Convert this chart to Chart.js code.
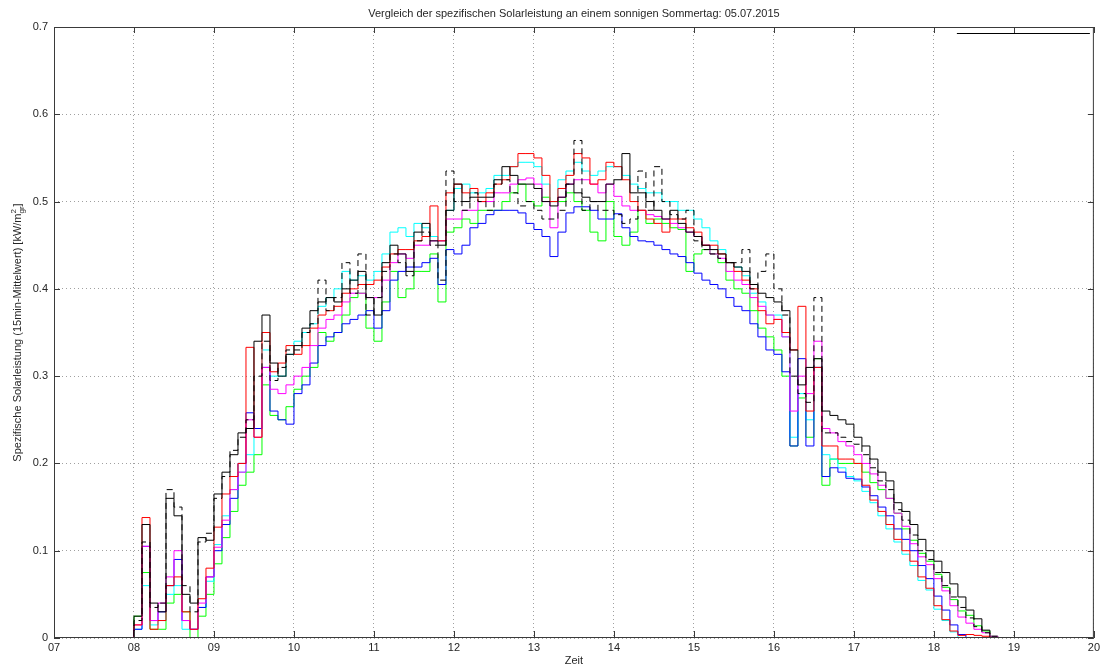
<!DOCTYPE html>
<html>
<head>
<meta charset="utf-8">
<script src="https://cdn.jsdelivr.net/npm/chart.js"></script>
<style>
  html, body { margin: 0; padding: 0; background: #fff; }
  #wrap { width: 1103px; height: 668px; }
</style>
</head>
<body>
<div id="wrap"><canvas id="chart" width="1103" height="668"></canvas></div>
<script>
// ── 1. DATA ─────────────────────────────────────────────────

const titleText = 'Vergleich der spezifischen Solarleistung an einem sonnigen Sommertag: 05.07.2015';
const xTitle = 'Zeit';
const yTitleMain = 'Spezifische Solarleistung (15min-Mittelwert) [kW/m';
const yTitleSup = '2';
const yTitleSub = 'gr';
const yTitleEnd = ']';

const xTickLabels = ['07', '08', '09', '10', '11', '12', '13', '14', '15', '16', '17', '18', '19', '20'];
const yTickLabels = ['0', '0.1', '0.2', '0.3', '0.4', '0.5', '0.6', '0.7'];

// time of day in hours (6-minute steps)
const times = [
  7.9, 8.0, 8.1, 8.2, 8.3, 8.4, 8.5, 8.6, 8.7, 8.8, 8.9,
  9.0, 9.1, 9.2, 9.3, 9.4, 9.5, 9.6, 9.7, 9.8, 9.9,
  10.0, 10.1, 10.2, 10.3, 10.4, 10.5, 10.6, 10.7, 10.8, 10.9,
  11.0, 11.1, 11.2, 11.3, 11.4, 11.5, 11.6, 11.7, 11.8, 11.9,
  12.0, 12.1, 12.2, 12.3, 12.4, 12.5, 12.6, 12.7, 12.8, 12.9,
  13.0, 13.1, 13.2, 13.3, 13.4, 13.5, 13.6, 13.7, 13.8, 13.9,
  14.0, 14.1, 14.2, 14.3, 14.4, 14.5, 14.6, 14.7, 14.8, 14.9,
  15.0, 15.1, 15.2, 15.3, 15.4, 15.5, 15.6, 15.7, 15.8, 15.9,
  16.0, 16.1, 16.2, 16.3, 16.4, 16.5, 16.6, 16.7, 16.8, 16.9,
  17.0, 17.1, 17.2, 17.3, 17.4, 17.5, 17.6, 17.7, 17.8, 17.9,
  18.0, 18.1, 18.2, 18.3, 18.4, 18.5, 18.6, 18.7, 18.8, 18.9
];

const blackSolid = [
  0, 0.025, 0.13, 0.04, 0.03, 0.16, 0.14, 0.05, 0.04, 0.115, 0.112,
  0.165, 0.19, 0.21, 0.235, 0.24, 0.34, 0.37, 0.315, 0.30, 0.325,
  0.335, 0.355, 0.375, 0.385, 0.39, 0.385, 0.40, 0.41, 0.42, 0.39,
  0.37, 0.43, 0.45, 0.44, 0.42, 0.465, 0.475, 0.455, 0.45, 0.49,
  0.52, 0.50, 0.505, 0.505, 0.505, 0.525, 0.54, 0.53, 0.52, 0.52,
  0.515, 0.50, 0.495, 0.505, 0.52, 0.51, 0.505, 0.50, 0.50, 0.52,
  0.525, 0.555, 0.51, 0.51, 0.50, 0.49, 0.48, 0.49, 0.475, 0.465,
  0.46, 0.45, 0.445, 0.44, 0.43, 0.425, 0.42, 0.405, 0.395, 0.39,
  0.385, 0.375, 0.33, 0.29, 0.31, 0.32, 0.26, 0.255, 0.25, 0.245,
  0.23, 0.22, 0.205, 0.19, 0.18, 0.155, 0.145, 0.13, 0.113, 0.10,
  0.088, 0.075, 0.062, 0.047, 0.032, 0.022, 0.009, 0, 0, 0
];

const blackDashed = [
  0, 0.02, 0.11, 0.035, 0.04, 0.17, 0.15, 0.06, 0.03, 0.11, 0.12,
  0.16, 0.185, 0.215, 0.23, 0.25, 0.30, 0.34, 0.295, 0.31, 0.33,
  0.33, 0.35, 0.36, 0.41, 0.375, 0.39, 0.43, 0.395, 0.44, 0.37,
  0.39, 0.42, 0.44, 0.43, 0.415, 0.455, 0.465, 0.45, 0.41, 0.535,
  0.50, 0.49, 0.51, 0.50, 0.49, 0.52, 0.525, 0.51, 0.495, 0.50,
  0.49, 0.48, 0.48, 0.49, 0.52, 0.57, 0.49, 0.50, 0.49, 0.49,
  0.485, 0.475, 0.48, 0.535, 0.49, 0.54, 0.50, 0.485, 0.48, 0.49,
  0.455, 0.445, 0.44, 0.435, 0.43, 0.43, 0.445, 0.40, 0.42, 0.44,
  0.40, 0.37, 0.30, 0.28, 0.27, 0.39, 0.235, 0.235, 0.23, 0.225,
  0.222, 0.21, 0.195, 0.18, 0.17, 0.147, 0.135, 0.118, 0.10, 0.09,
  0.075, 0.06, 0.047, 0.035, 0.023, 0.013, 0.006, 0.002, 0, 0
];

const red = [
  0, 0.015, 0.138, 0.01, 0.02, 0.06, 0.07, 0.03, 0.01, 0.045, 0.08,
  0.127, 0.165, 0.185, 0.20, 0.333, 0.23, 0.35, 0.305, 0.315, 0.335,
  0.325, 0.335, 0.355, 0.37, 0.375, 0.38, 0.395, 0.40, 0.405, 0.405,
  0.41, 0.425, 0.44, 0.445, 0.445, 0.455, 0.46, 0.495, 0.455, 0.51,
  0.52, 0.51, 0.515, 0.50, 0.51, 0.52, 0.525, 0.54, 0.555, 0.555,
  0.55, 0.53, 0.50, 0.515, 0.53, 0.555, 0.55, 0.52, 0.525, 0.545,
  0.54, 0.525, 0.50, 0.49, 0.48, 0.475, 0.465, 0.48, 0.48, 0.47,
  0.465, 0.45, 0.45, 0.44, 0.43, 0.42, 0.41, 0.40, 0.375, 0.36,
  0.365, 0.35, 0.33, 0.38, 0.26, 0.31, 0.22, 0.22, 0.205, 0.205,
  0.20, 0.175, 0.158, 0.145, 0.13, 0.113, 0.10, 0.088, 0.07, 0.057,
  0.037, 0.021, 0.008, 0.003, 0.004, 0.003, 0.002, 0, 0, 0
];

const blue = [
  0, 0.01, 0.105, 0.02, 0.03, 0.06, 0.09, 0.02, 0.01, 0.035, 0.07,
  0.10, 0.13, 0.16, 0.20, 0.258, 0.24, 0.31, 0.26, 0.25, 0.245,
  0.28, 0.29, 0.315, 0.335, 0.345, 0.35, 0.36, 0.365, 0.37, 0.375,
  0.355, 0.375, 0.41, 0.42, 0.425, 0.425, 0.43, 0.435, 0.405, 0.445,
  0.44, 0.45, 0.47, 0.475, 0.485, 0.49, 0.49, 0.49, 0.487, 0.475,
  0.468, 0.46, 0.437, 0.465, 0.487, 0.494, 0.494, 0.49, 0.48, 0.48,
  0.486, 0.47, 0.46, 0.455, 0.454, 0.45, 0.445, 0.44, 0.437, 0.43,
  0.418, 0.41, 0.405, 0.40, 0.39, 0.38, 0.375, 0.36, 0.345, 0.33,
  0.325, 0.305, 0.22, 0.32, 0.22, 0.31, 0.185, 0.195, 0.19, 0.183,
  0.182, 0.173, 0.163, 0.15, 0.14, 0.125, 0.113, 0.10, 0.083, 0.068,
  0.048, 0.032, 0.015, 0.004, 0, 0, 0, 0, 0, 0
];

const green = [
  0, 0.025, 0.075, 0.01, 0.01, 0.04, 0.05, 0.03, 0, 0.025, 0.05,
  0.085, 0.115, 0.145, 0.175, 0.19, 0.21, 0.29, 0.255, 0.25, 0.265,
  0.285, 0.30, 0.31, 0.35, 0.34, 0.35, 0.37, 0.39, 0.395, 0.355,
  0.34, 0.385, 0.42, 0.39, 0.40, 0.42, 0.42, 0.44, 0.385, 0.465,
  0.47, 0.48, 0.475, 0.49, 0.49, 0.49, 0.50, 0.51, 0.52, 0.50,
  0.495, 0.505, 0.50, 0.50, 0.51, 0.50, 0.49, 0.465, 0.455, 0.50,
  0.46, 0.45, 0.465, 0.49, 0.475, 0.48, 0.475, 0.47, 0.468, 0.42,
  0.44, 0.445, 0.44, 0.43, 0.41, 0.40, 0.395, 0.375, 0.355, 0.345,
  0.33, 0.30, 0.22, 0.275, 0.23, 0.32, 0.175, 0.205, 0.20, 0.20,
  0.20, 0.19, 0.178, 0.17, 0.16, 0.143, 0.125, 0.112, 0.097, 0.088,
  0.073, 0.058, 0.044, 0.031, 0.026, 0.014, 0.008, 0.002, 0, 0
];

const magenta = [
  0, 0.015, 0.105, 0.02, 0.04, 0.07, 0.10, 0.02, 0.01, 0.04, 0.07,
  0.104, 0.135, 0.17, 0.19, 0.25, 0.23, 0.31, 0.285, 0.28, 0.29,
  0.30, 0.31, 0.335, 0.355, 0.365, 0.37, 0.385, 0.395, 0.395, 0.39,
  0.39, 0.41, 0.43, 0.44, 0.435, 0.45, 0.45, 0.455, 0.455, 0.48,
  0.48, 0.49, 0.49, 0.50, 0.50, 0.51, 0.51, 0.52, 0.525, 0.527,
  0.52, 0.50, 0.47, 0.505, 0.52, 0.525, 0.525, 0.52, 0.51, 0.52,
  0.506, 0.495, 0.49, 0.49, 0.485, 0.483, 0.48, 0.475, 0.47, 0.465,
  0.46, 0.45, 0.44, 0.435, 0.42, 0.41, 0.405, 0.39, 0.38, 0.37,
  0.365, 0.345, 0.26, 0.30, 0.28, 0.34, 0.24, 0.235, 0.225, 0.22,
  0.21, 0.20, 0.188, 0.175, 0.16, 0.143, 0.128, 0.108, 0.093, 0.084,
  0.068, 0.054, 0.037, 0.024, 0.017, 0.01, 0.006, 0.002, 0, 0
];

const cyan = [
  0, 0.01, 0.06, 0.015, 0.02, 0.05, 0.06, 0.01, 0.01, 0.035, 0.065,
  0.107, 0.14, 0.17, 0.19, 0.21, 0.24, 0.33, 0.30, 0.30, 0.325,
  0.34, 0.35, 0.36, 0.38, 0.39, 0.40, 0.42, 0.41, 0.415, 0.41,
  0.42, 0.44, 0.465, 0.47, 0.46, 0.475, 0.47, 0.46, 0.455, 0.49,
  0.515, 0.52, 0.51, 0.51, 0.515, 0.53, 0.53, 0.54, 0.545, 0.545,
  0.54, 0.52, 0.50, 0.525, 0.535, 0.545, 0.535, 0.53, 0.535, 0.54,
  0.54, 0.53, 0.52, 0.515, 0.51, 0.51, 0.50, 0.50, 0.49, 0.49,
  0.48, 0.47, 0.455, 0.445, 0.43, 0.425, 0.415, 0.395, 0.385, 0.37,
  0.37, 0.345, 0.23, 0.28, 0.25, 0.31, 0.21, 0.205, 0.195, 0.185,
  0.18, 0.168, 0.155, 0.14, 0.125, 0.11, 0.096, 0.083, 0.066, 0.055,
  0.033, 0.02, 0.007, 0, 0, 0, 0, 0, 0, 0
];


// ── 2. HELPERS ──────────────────────────────────────────────

const FONT = '"Liberation Sans", Arial, Helvetica, sans-serif';
const TEXT_COLOR = '#262626';
const AXIS_COLOR = '#3a3a3a';

function toPoints(values) {
  return values.map((v, i) => ({ x: times[i], y: v }));
}

function series(values, color, dash) {
  return {
    data: toPoints(values),
    borderColor: color,
    borderWidth: 1,
    borderDash: dash || [],
    pointRadius: 0,
    stepped: true,
    fill: false
  };
}

// MATLAB-like frame: legend box, full box, inward ticks, titles
const matlabFrame = {
  id: 'matlabFrame',
  afterDatasetsDraw(chart) {
    const { ctx, chartArea: a, scales: { x, y } } = chart;
    ctx.save();

    // legend box in the upper right corner
    const lx = a.right - 152;
    const ly = a.top + 1;
    ctx.fillStyle = '#fff';
    ctx.fillRect(lx, ly, a.right - lx, 122);
    ctx.strokeStyle = '#000';
    ctx.lineWidth = 1;
    ctx.beginPath();
    ctx.moveTo(lx + 15, ly + 5.5);
    ctx.lineTo(a.right - 4, ly + 5.5);
    ctx.stroke();

    // box round the axes
    ctx.strokeStyle = AXIS_COLOR;
    ctx.strokeRect(a.left + 0.5, a.top + 0.5, a.width - 1, a.height - 1);

    // inward tick marks on all four sides
    ctx.beginPath();
    x.ticks.forEach(t => {
      const px = Math.round(x.getPixelForValue(t.value)) + 0.5;
      ctx.moveTo(px, a.bottom); ctx.lineTo(px, a.bottom - 7);
      ctx.moveTo(px, a.top); ctx.lineTo(px, a.top + 6);
    });
    y.ticks.forEach(t => {
      const py = Math.round(y.getPixelForValue(t.value)) + 0.5;
      ctx.moveTo(a.left, py); ctx.lineTo(a.left + 6, py);
      ctx.moveTo(a.right, py); ctx.lineTo(a.right - 6, py);
    });
    ctx.stroke();

    // title and x label
    const cx = (a.left + a.right) / 2;
    ctx.fillStyle = TEXT_COLOR;
    ctx.textAlign = 'center';
    ctx.textBaseline = 'middle';
    ctx.font = '11px ' + FONT;
    ctx.fillText(titleText, cx, 14);
    ctx.fillText(xTitle, cx, 661);

    // y label with superscript 2 and subscript gr
    ctx.translate(18, (a.top + a.bottom) / 2);
    ctx.rotate(-Math.PI / 2);
    ctx.font = '11px ' + FONT;
    const wMain = ctx.measureText(yTitleMain).width;
    const wEnd = ctx.measureText(yTitleEnd).width;
    ctx.font = '8px ' + FONT;
    const wScript = Math.max(ctx.measureText(yTitleSup).width, ctx.measureText(yTitleSub).width);
    const x0 = -(wMain + wScript + wEnd) / 2;
    ctx.textAlign = 'left';
    ctx.font = '11px ' + FONT;
    ctx.fillText(yTitleMain, x0, 0);
    ctx.fillText(yTitleEnd, x0 + wMain + wScript, 0);
    ctx.font = '8px ' + FONT;
    ctx.fillText(yTitleSup, x0 + wMain, -4);
    ctx.fillText(yTitleSub, x0 + wMain, 4);

    ctx.restore();
  }
};


// ── 3. CHART ────────────────────────────────────────────────

const tickFont = { family: FONT, size: 11 };

new Chart(document.getElementById('chart').getContext('2d'), {
  type: 'line',
  data: {
    datasets: [
      series(blackSolid, '#000000'),
      series(blackDashed, '#000000', [6, 4]),
      series(red, '#ff0000'),
      series(magenta, '#ff00ff'),
      series(blue, '#0000ff'),
      series(cyan, '#00ffff'),
      series(green, '#00ff00')
    ]
  },
  options: {
    responsive: false,
    animation: false,
    devicePixelRatio: 1,
    events: [],
    layout: { padding: { top: 27, right: 6, left: 0, bottom: 0 } },
    scales: {
      x: {
        type: 'linear',
        min: 7,
        max: 20,
        afterFit: s => { s.height = 30; },
        ticks: {
          stepSize: 1,
          autoSkip: false,
          maxRotation: 0,
          padding: 3,
          color: TEXT_COLOR,
          font: tickFont,
          callback: v => xTickLabels[Math.round(v) - 7]
        },
        grid: { color: '#a0a0a0', drawTicks: false, lineWidth: 1 },
        border: { display: false, dash: [1, 3] }
      },
      y: {
        min: 0,
        max: 0.7,
        afterFit: s => { s.width = 54; },
        ticks: {
          stepSize: 0.1,
          padding: 6,
          color: TEXT_COLOR,
          font: tickFont,
          callback: v => yTickLabels[Math.round(v * 10)]
        },
        grid: { color: '#a0a0a0', drawTicks: false, lineWidth: 1 },
        border: { display: false, dash: [1, 3] }
      }
    },
    plugins: {
      legend: { display: false },
      tooltip: { enabled: false },
      title: { display: false }
    }
  },
  plugins: [matlabFrame]
});
</script>
</body>
</html>
